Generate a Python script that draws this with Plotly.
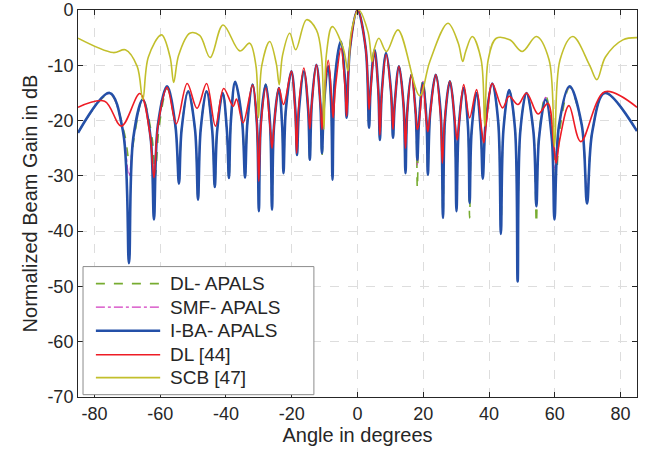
import plotly.graph_objects as go

# ---------------- data ----------------
# I-BA- APALS : lobe peaks, nulls and the flanks next to each null
iba_angle = [-85, -75.4, -71.3, -69.5, -68.2, -65.3, -62.9, -61.9, -60.7, -57.9, -55.4, -54.3, -53.5,
             -51.5, -49.4, -48.5, -47.7, -45.9, -44.2, -43.4, -42.7, -41.0, -39.7, -39.1, -38.5,
             -37.2, -35.1, -34.2, -33.5, -31.9, -30.6, -30.0, -29.4, -27.9, -26.6, -26.0, -25.4,
             -23.9, -22.9, -22.5, -21.8, -20.1, -18.9, -18.4, -17.8, -16.3, -15.0, -14.5, -13.9,
             -12.5, -11.3, -10.8, -10.2, -8.9, -8.0, -7.6, -6.9, -5.1, -3.8, -3.3, -2.3, 0.0,
             2.5, 3.5, 4.0, 5.2, 6.3, 6.8, 7.4, 8.7, 10.2, 10.8, 11.3, 12.6, 14.0, 14.6, 15.1,
             16.4, 17.7, 18.2, 18.7, 19.9, 21.0, 21.4, 22.1, 23.8, 25.3, 26.0, 26.6, 28.1, 29.5,
             30.1, 30.8, 32.3, 33.6, 34.1, 34.7, 36.2, 37.5, 38.1, 39.0, 41.0, 42.8, 43.6, 44.4,
             46.1, 47.9, 48.7, 49.5, 51.4, 53.5, 54.4, 55.2, 57.2, 59.1, 59.9, 61.3, 64.5, 68.2,
             69.8, 71.4, 75.2, 85]
iba_gain = [-22.2, -15.0, -22.0, -45.8, -23.2, -16.2, -23.2, -37.9, -20.8, -13.8, -20.8, -31.4, -21.7,
            -14.7, -21.7, -34.3, -21.7, -14.7, -21.7, -32.0, -22.0, -15.0, -22.0, -30.4, -20.0,
            -13.0, -20.0, -30.3, -20.5, -13.5, -20.5, -36.4, -20.5, -13.5, -20.5, -36.1, -21.1,
            -14.1, -21.1, -29.5, -18.1, -11.1, -18.1, -26.2, -18.1, -11.1, -18.1, -27.1, -16.9,
            -9.9, -16.9, -25.9, -17.2, -10.2, -17.2, -30.7, -12.7, -5.7, -12.7, -19.5, -7.0, 0.0,
            -7.0, -21.3, -14.2, -7.2, -14.2, -23.5, -14.8, -7.8, -14.8, -23.1, -17.2, -10.2, -17.2, -29.5, -18.7,
            -11.7, -18.7, -27.1, -20.2, -13.2, -20.2, -29.8, -18.7, -11.7, -18.7, -37.6, -19.9, -12.9, -19.9,
            -36.4, -21.1, -14.1, -21.1, -34.9, -22.0, -15.0, -22.0, -30.5, -20.3, -13.3, -20.3, -40.5, -21.5,
            -14.5, -21.5, -49.1, -22.0, -15.0, -22.0, -35.5, -23.2, -16.2, -23.2, -37.9, -20.8, -13.8, -20.8,
            -35.0, -22.0, -15.0, -21.9]

# DL- APALS (nulls slightly shifted / different depths)
dl_apals_angle = [-85, -75.4, -71.0, -69.2, -67.9, -65.3, -62.5, -61.5, -60.3, -57.9, -55.4, -54.3, -53.5,
                  -51.5, -49.4, -48.5, -47.7, -45.9, -44.2, -43.4, -42.7, -41.0, -39.7, -39.1, -38.5,
                  -37.2, -35.1, -34.2, -33.5, -31.9, -30.6, -30.0, -29.4, -27.9, -26.6, -26.0, -25.4,
                  -23.9, -22.9, -22.5, -21.8, -20.1, -18.9, -18.4, -17.8, -16.3, -15.0, -14.5, -13.9,
                  -12.5, -11.3, -10.8, -10.2, -8.9, -8.0, -7.6, -6.9, -5.1, -3.8, -3.3, -2.3, 0.0,
                  2.5, 3.5, 4.0, 5.2, 6.3, 6.8, 7.4, 8.7, 10.2, 10.8, 11.3, 12.6, 14.0, 14.6, 15.1,
                  16.4, 17.7, 18.2, 18.7, 19.9, 21.0, 21.4, 22.1, 23.8, 25.3, 26.0, 26.6, 28.1, 29.5,
                  30.1, 30.8, 32.3, 33.6, 34.1, 34.7, 36.2, 37.5, 38.1, 39.0, 41.0, 42.8, 43.6, 44.4,
                  46.1, 47.9, 48.7, 49.5, 51.4, 53.5, 54.4, 55.2, 57.2, 59.5, 60.4, 61.7, 64.5, 68.2,
                  69.8, 71.4, 75.2, 85]
dl_apals_gain = [-22.2, -15.2, -22.0, -28.0, -23.0, -16.0, -23.0, -30.0, -21.0, -14.3, -21.0, -31.0, -21.7,
                 -14.7, -21.7, -34.0, -21.7, -14.7, -21.7, -32.0, -22.0, -15.0, -22.0, -30.5, -20.0,
                 -13.2, -20.0, -30.0, -20.5, -13.5, -20.5, -33.0, -20.5, -13.5, -20.5, -35.0, -21.1,
                 -14.1, -21.1, -29.0, -18.1, -11.3, -18.1, -26.0, -18.1, -11.1, -18.1, -27.0, -16.9,
                 -9.9, -16.9, -26.5, -17.2, -10.2, -17.2, -28.0, -12.7, -5.9, -12.7, -19.0, -7.0, 0.0,
                 -7.0, -21.0, -14.2, -7.2, -14.2, -23.0, -14.8, -7.8, -14.8, -23.0, -17.2, -10.2, -17.2, -29.0, -18.7,
                 -11.7, -18.7, -32.2, -19.6, -12.6, -19.6, -29.0, -18.7, -11.7, -18.7, -37.0, -19.9, -12.9, -19.9,
                 -36.0, -21.1, -14.1, -21.1, -37.6, -22.0, -15.0, -22.0, -29.5, -20.3, -13.3, -20.3, -40.0, -21.5,
                 -14.5, -21.5, -48.0, -22.0, -15.0, -22.0, -38.5, -22.5, -15.5, -22.5, -30.0, -21.0, -14.0, -21.0,
                 -34.5, -22.0, -15.0, -21.9]

# SMF- APALS
smf_apals_angle = iba_angle
smf_apals_gain = [-22.2, -15.1, -22.0, -30.0, -23.1, -16.1, -23.1, -32.0, -20.9, -14.2, -20.9, -30.0, -21.7,
                  -14.7, -21.7, -33.0, -21.7, -14.7, -21.7, -31.0, -22.0, -15.0, -22.0, -29.5, -20.0,
                  -13.1, -20.0, -29.5, -20.5, -13.5, -20.5, -32.0, -20.5, -13.5, -20.5, -33.0, -21.1,
                  -14.1, -21.1, -28.0, -18.1, -11.2, -18.1, -25.5, -18.1, -11.1, -18.1, -26.0, -16.9,
                  -9.9, -16.9, -25.0, -17.2, -10.2, -17.2, -27.0, -12.7, -5.8, -12.7, -19.0, -7.0, 0.0,
                  -7.0, -20.5, -14.2, -7.2, -14.2, -22.5, -14.8, -7.8, -14.8, -22.5, -17.2, -10.2, -17.2, -28.0, -18.7,
                  -11.7, -18.7, -28.0, -19.9, -12.9, -19.9, -28.5, -18.7, -11.7, -18.7, -35.0, -19.9, -12.9, -19.9,
                  -34.0, -21.1, -14.1, -21.1, -33.0, -22.0, -15.0, -22.0, -28.5, -20.3, -13.3, -20.3, -38.0, -21.5,
                  -14.5, -21.5, -45.0, -22.0, -15.0, -22.0, -34.0, -22.8, -15.8, -22.8, -29.0, -20.9, -13.9, -20.9,
                  -33.0, -22.0, -15.0, -21.9]

# DL [44]
dl44_angle = [-85, -76.9, -71.8, -66.2, -63.2, -61.9, -60.7, -57.9, -55.1, -51.8, -48.8, -45.9,
              -43.2, -40.7, -37.8, -36.8, -34.8, -31.9, -30.6, -30.0, -29.4, -27.9, -26.6, -26.0,
              -25.4, -23.9, -22.5, -20.1, -19.0, -18.5, -17.9, -16.3, -15.0, -14.5, -13.9, -12.5,
              -11.3, -10.8, -10.2, -8.9, -7.85, -7.4, -6.7, -5.0, -3.8, -3.3, -2.3, 0.0, 2.5, 3.5,
              4.0, 5.2, 6.3, 6.8, 7.4, 8.7, 10.2, 10.8, 11.3, 12.6, 14.0, 14.6, 15.1, 16.4, 17.7,
              18.2, 18.7, 19.9, 21.0, 21.4, 22.1, 23.8, 25.2, 25.8, 26.5, 28.1, 29.6, 30.3, 30.9,
              32.3, 34.1, 36.2, 37.7, 38.4, 39.2, 41.0, 44.1, 46.1, 48.8, 51.4, 54.9, 57.9, 59.6,
              60.4, 61.5, 64.3, 67.9, 75.2, 85]
dl44_gain = [-17.6, -16.5, -21.0, -15.1, -22.1, -30.3, -21.0, -14.0, -20.6, -13.3, -17.8, -13.3,
             -21.0, -14.2, -17.4, -16.1, -20.4, -13.6, -20.6, -31.0, -21.1, -14.1, -21.1, -25.0,
             -21.1, -14.1, -17.1, -11.1, -18.1, -25.9, -17.5, -10.5, -17.5, -21.5, -16.9, -9.9,
             -16.9, -21.6, -16.1, -9.1, -16.1, -19.5, -13.9, -6.9, -13.9, -19.2, -7.0, 0.0, -7.0, -18.0,
             -14.5, -7.5, -14.5, -22.6, -15.1, -8.1, -15.1, -21.6, -17.2, -10.2, -17.2, -25.0, -18.7, -11.7, -18.7,
             -21.6, -20.5, -13.5, -20.5, -22.0, -18.7, -11.7, -18.7, -27.7, -19.9, -12.9, -19.9, -23.5, -20.5,
             -13.5, -19.5, -14.4, -21.4, -24.0, -20.3, -13.3, -17.7, -15.6, -17.1, -15.0, -18.8, -16.9, -23.9,
             -27.7, -23.5, -17.3, -23.8, -14.8, -17.6]

# SCB [47]
scb_angle = [-85, -74.3, -70.6, -67.0, -65.3, -63.6, -59.6, -57.0, -55.9, -54.4, -51.0, -48.0,
             -44.8, -40.9, -35.8, -32.8, -30.9, -30.1, -29.1, -26.7, -24.7, -23.8, -22.8, -20.6,
             -18.8, -15.5, -12.5, -10.9, -10.2, -9.45, -7.7, -4.3, -2.9, -1.9, 0.3, 3.2, 4.4, 5.0,
             6.5, 8.8, 12.3, 18.9, 22.0, 27.5, 30.65, 32.0, 32.9, 34.9, 37.6, 38.7, 39.75, 42.2,
             46.3, 50.1, 54.4, 58.25, 59.9, 61.6, 65.5, 70.6, 72.8, 75.4, 80.7, 85]
scb_gain = [-5.1, -7.7, -7.2, -10.2, -16.2, -8.5, -4.5, -8.5, -13.1, -8.2, -4.2, -4.6,
            -8.6, -2.7, -7.4, -6.0, -10.0, -19.5, -10.0, -5.7, -9.7, -13.5, -8.2, -4.2,
            -7.2, -1.75, -3.6, -8.6, -21.6, -8.0, -3.0, -7.0, -11.0, -4.0, 0.0, -4.0, -9.3, -7.3,
            -5.1, -7.5, -3.6, -15.5, -9.3, -2.4, -6.0, -9.3, -7.5, -4.8, -9.0, -21.0, -9.0, -5.1,
            -5.4, -7.5, -4.8, -9.0, -24.7, -9.0, -4.8, -10.0, -12.6, -8.5, -5.4, -5.0]

x_ticks = [-80, -60, -40, -20, 0, 20, 40, 60, 80]
y_ticks = [-70, -60, -50, -40, -30, -20, -10, 0]

series_names = ["DL- APALS", "SMF- APALS", "I-BA- APALS", "DL [44]", "SCB [47]"]
series_colors = ["#77AC30", "#D23CC0", "#2450A8", "#EE1C25", "#C2BF2C"]
series_dash = ["dash", "dashdot", "solid", "solid", "solid"]
series_width = [1.6, 1.2, 2.6, 1.6, 1.6]
series_x = [dl_apals_angle, smf_apals_angle, iba_angle, dl44_angle, scb_angle]
series_y = [dl_apals_gain, smf_apals_gain, iba_gain, dl44_gain, scb_gain]

# ---------------- figure ----------------
fig = go.Figure()
for nm, col, ds, wd, xs, ys in zip(series_names, series_colors, series_dash, series_width,
                                   series_x, series_y):
    fig.add_trace(go.Scatter(x=xs, y=ys, name=nm, mode="lines", line_shape="spline",
                             line=dict(color=col, width=wd, dash=ds, smoothing=1.0),
                             showlegend=False))

axis_common = dict(showline=True, linecolor="#262626", linewidth=1, mirror="ticks",
                   ticks="inside", ticklen=5, tickcolor="#262626",
                   showgrid=True, gridcolor="#DDDDDD", griddash="dash", gridwidth=1,
                   zeroline=False, tickfont=dict(size=18, color="#262626"),
                   title_font=dict(size=20, color="#262626"), automargin=False)

fig.update_xaxes(range=[-85, 85], tickvals=x_ticks, ticktext=[str(v) for v in x_ticks],
                 title_text="Angle in degrees", title_standoff=4, **axis_common)
fig.update_yaxes(range=[-70, 0], tickvals=y_ticks, ticktext=[str(v) for v in y_ticks],
                 title_text="Normalized Beam Gain in dB", title_standoff=4, **axis_common)

# ---- legend drawn as a boxed key (MATLAB style long line samples) ----
leg_x0, leg_x1, leg_y0, leg_y1 = 0.009, 0.422, 0.006, 0.337
line_x0, line_x1, text_x = 0.032, 0.147, 0.161
row_y = [0.293, 0.232, 0.171, 0.109, 0.050]
shapes = [dict(type="rect", xref="paper", yref="paper", x0=leg_x0, x1=leg_x1, y0=leg_y0, y1=leg_y1,
               line=dict(color="#8C8C8C", width=1), fillcolor="white", layer="above")]
annotations = []
for nm, col, ds, wd, yy in zip(series_names, series_colors, series_dash, series_width, row_y):
    shapes.append(dict(type="line", xref="paper", yref="paper", x0=line_x0, x1=line_x1, y0=yy, y1=yy,
                       line=dict(color=col, width=wd, dash=ds), layer="above"))
    annotations.append(dict(xref="paper", yref="paper", x=text_x, y=yy, text=nm, showarrow=False,
                            xanchor="left", yanchor="middle",
                            font=dict(size=19, color="#262626")))

fig.update_layout(
    width=657, height=457,
    margin=dict(l=78, r=20, t=10, b=60),
    paper_bgcolor="white", plot_bgcolor="white",
    font=dict(family="Liberation Sans, Arial, sans-serif", color="#262626"),
    showlegend=False,
    shapes=shapes, annotations=annotations,
)

fig.write_html("out.html")
